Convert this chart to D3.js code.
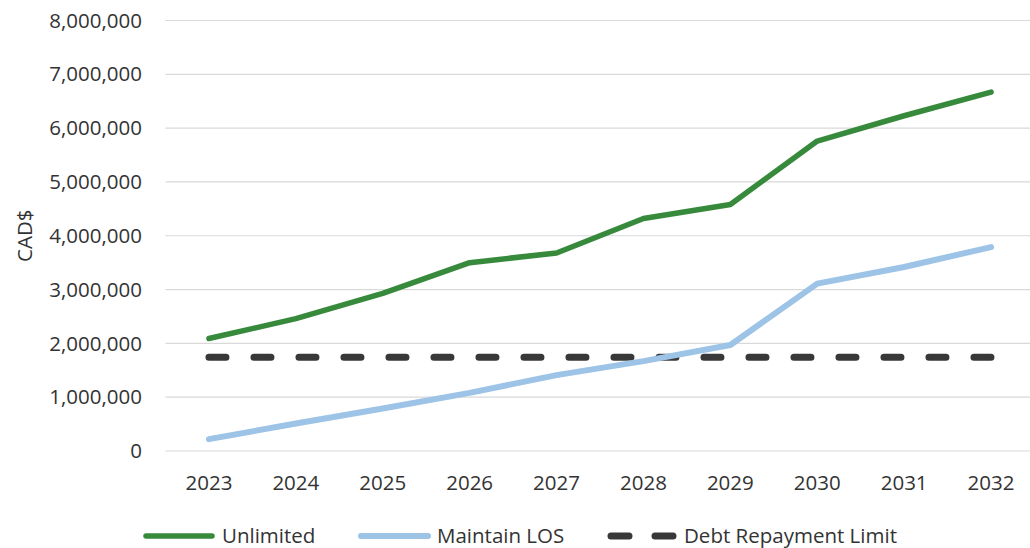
<!DOCTYPE html>
<html>
<head>
<meta charset="utf-8">
<script src="https://cdn.jsdelivr.net/npm/d3@7"></script>
<style>
  body { margin: 0; background: #fff; }
  text { font-family: "Open Sans", sans-serif; fill: #333; }
</style>
</head>
<body>
<div id="chart"></div>
<script>
/* data */
const years = ["2023", "2024", "2025", "2026", "2027", "2028", "2029", "2030", "2031", "2032"];
const unlimited = [2090000, 2460000, 2930000, 3500000, 3680000, 4320000, 4580000, 5760000, 6230000, 6670000];
const maintainLOS = [220000, 510000, 790000, 1080000, 1410000, 1670000, 1970000, 3110000, 3420000, 3790000];
const debtLimit = [1740000, 1740000, 1740000, 1740000, 1740000, 1740000, 1740000, 1740000, 1740000, 1740000];
const yTicks = [0, 1000000, 2000000, 3000000, 4000000, 5000000, 6000000, 7000000, 8000000];

const width = 1030, height = 548;
const margin = { top: 20.5, left: 165.5, right: -4.5, bottom: 97 };

const svg = d3.select("#chart").append("svg")
  .attr("width", width)
  .attr("height", height);

const x = d3.scalePoint()
  .domain(years)
  .range([margin.left, width - margin.right])
  .padding(0.5);

const y = d3.scaleLinear()
  .domain([0, 8000000])
  .range([height - margin.bottom, margin.top]);

// gridlines
svg.append("g")
  .selectAll("line")
  .data(yTicks)
  .join("line")
  .attr("x1", margin.left)
  .attr("x2", width)
  .attr("y1", d => y(d))
  .attr("y2", d => y(d))
  .attr("stroke", "#d9d9d9")
  .attr("stroke-width", 1.2);

// y tick labels
svg.append("g")
  .selectAll("text")
  .data(yTicks)
  .join("text")
  .attr("x", 142)
  .attr("y", d => y(d))
  .attr("dy", "0.35em")
  .attr("text-anchor", "end")
  .style("font-size", "20.5px")
  .text(d => d3.format(",")(d));

// x tick labels
svg.append("g")
  .selectAll("text")
  .data(years)
  .join("text")
  .attr("x", d => x(d))
  .attr("y", 483)
  .attr("dy", "0.35em")
  .attr("text-anchor", "middle")
  .style("font-size", "20.5px")
  .text(d => d);

// y axis title
svg.append("text")
  .attr("transform", `translate(25, ${(y(0) + y(8000000)) / 2}) rotate(-90)`)
  .attr("dy", "0.35em")
  .attr("text-anchor", "middle")
  .style("font-size", "20.5px")
  .text("CAD$");

const line = d3.line()
  .x((d, i) => x(years[i]))
  .y(d => y(d));

const series = [
  { name: "Unlimited", values: unlimited, color: "#378a3b", width: 5.5, dash: null },
  { name: "Maintain LOS", values: maintainLOS, color: "#9dc3e6", width: 6, dash: null },
  { name: "Debt Repayment Limit", values: debtLimit, color: "#383838", width: 7, dash: "17,28" }
];

// draw dashed first so others sit on top like the reference? reference shows blue over dash
svg.append("g")
  .selectAll("path")
  .data([series[2], series[0], series[1]])
  .join("path")
  .attr("d", d => line(d.values))
  .attr("fill", "none")
  .attr("stroke", d => d.color)
  .attr("stroke-width", d => d.width)
  .attr("stroke-linecap", "round")
  .attr("stroke-linejoin", "round")
  .attr("stroke-dasharray", d => d.dash);

// legend
const legendY = 536;
const legendItems = [
  { s: series[0], x0: 146, x1: 212, tx: 222 },
  { s: series[1], x0: 361, x1: 428, tx: 437 },
  { s: series[2], x0: 611, x1: 675, tx: 684 }
];
const lg = svg.append("g").selectAll("g").data(legendItems).join("g");
lg.append("line")
  .attr("x1", d => d.x0)
  .attr("x2", d => d.x1)
  .attr("y1", legendY)
  .attr("y2", legendY)
  .attr("stroke", d => d.s.color)
  .attr("stroke-width", d => d.s.width)
  .attr("stroke-linecap", "round")
  .attr("stroke-dasharray", d => d.s.dash ? "18,26" : null);
lg.append("text")
  .attr("x", d => d.tx)
  .attr("y", legendY)
  .attr("dy", "0.35em")
  .style("font-size", "20.5px")
  .text(d => d.s.name);
</script>
</body>
</html>
